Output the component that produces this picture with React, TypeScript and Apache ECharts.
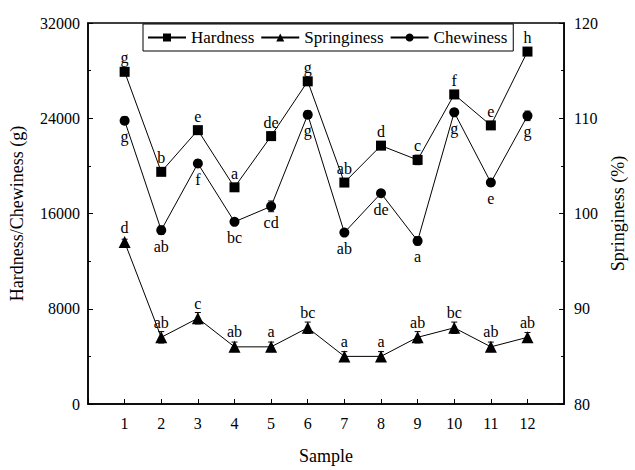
import React, { useEffect, useRef } from "react";
import * as echarts from "echarts";

const samples = [1, 2, 3, 4, 5, 6, 7, 8, 9, 10, 11, 12];
const hardness = [27900, 19500, 23000, 18200, 22500, 27100, 18600, 21700, 20500, 26000, 23400, 29600];
const hardnessErr = [300, 250, 300, 250, 300, 300, 250, 250, 400, 300, 250, 300];
const hardnessLetters = ["g", "b", "e", "a", "de", "g", "ab", "d", "c", "f", "e", "h"];
const chewiness = [23800, 14600, 20200, 15300, 16600, 24300, 14400, 17700, 13700, 24500, 18600, 24200];
const chewinessErr = [300, 350, 300, 250, 450, 300, 250, 250, 350, 300, 300, 400];
const chewinessLetters = ["g", "ab", "f", "bc", "cd", "g", "ab", "de", "a", "g", "e", "g"];
const springiness = [97.0, 87.0, 89.0, 86.0, 86.0, 88.0, 85.0, 85.0, 87.0, 88.0, 86.0, 87.0];
const springinessErr = [0.3, 0.6, 0.6, 0.5, 0.5, 0.6, 0.5, 0.5, 0.6, 0.6, 0.5, 0.5];
const springinessLetters = ["d", "ab", "c", "ab", "a", "bc", "a", "a", "ab", "bc", "ab", "ab"];

const FONT = "serif";

function errorSeries(values: number[], errs: number[], yAxisIndex: number) {
  return {
    type: "custom",
    yAxisIndex,
    silent: true,
    z: 1,
    data: samples.map((s, i) => [s, values[i] - errs[i], values[i] + errs[i]]),
    renderItem: (params: any, api: any) => {
      const x = api.value(0);
      const lo = api.coord([x, api.value(1)]);
      const hi = api.coord([x, api.value(2)]);
      const w = 3;
      const style = { stroke: "#000", lineWidth: 1 };
      return {
        type: "group",
        children: [
          { type: "line", shape: { x1: lo[0], y1: lo[1], x2: hi[0], y2: hi[1] }, style },
          { type: "line", shape: { x1: lo[0] - w, y1: lo[1], x2: lo[0] + w, y2: lo[1] }, style },
          { type: "line", shape: { x1: hi[0] - w, y1: hi[1], x2: hi[0] + w, y2: hi[1] }, style },
        ],
      };
    },
  };
}

export default function App() {
  const ref = useRef<HTMLDivElement>(null);
  useEffect(() => {
    document.body.style.margin = "0";
    if (!ref.current) return;
    const chart = echarts.init(ref.current, null, { renderer: "svg" });
    const labelStyle = { color: "#000", fontFamily: FONT, fontSize: 16 };
    chart.setOption({
      animation: false,
      textStyle: { fontFamily: FONT, color: "#000" },
      grid: {
        left: 88,
        right: 60,
        top: 23,
        bottom: 57,
        show: true,
        borderColor: "#000",
        borderWidth: 1.5,
      },
      legend: {
        top: 24,
        left: 143,
        borderColor: "#000",
        borderWidth: 1,
        padding: [5, 6, 5, 4],
        itemWidth: 38,
        itemHeight: 10,
        itemGap: 6,
        textStyle: { fontFamily: FONT, fontSize: 17, color: "#000" },
        data: ["Hardness", "Springiness", "Chewiness"],
      },
      xAxis: {
        type: "value",
        min: 0,
        max: 13,
        interval: 1,
        name: "Sample",
        nameLocation: "middle",
        nameGap: 43,
        nameTextStyle: { fontFamily: FONT, fontSize: 18, color: "#000" },
        axisLine: { lineStyle: { color: "#000", width: 1.5 } },
        axisTick: { inside: true, length: 5, lineStyle: { color: "#000" } },
        axisLabel: {
          fontFamily: FONT,
          fontSize: 16,
          color: "#000",
          margin: 11,
          formatter: (v: number) => (v >= 1 && v <= 12 ? String(v) : ""),
        },
        splitLine: { show: false },
      },
      yAxis: [
        {
          type: "value",
          min: 0,
          max: 32000,
          interval: 8000,
          name: "Hardness/Chewiness (g)",
          nameLocation: "middle",
          nameGap: 62,
          nameTextStyle: { fontFamily: FONT, fontSize: 18, color: "#000" },
          axisLine: { show: true, lineStyle: { color: "#000", width: 1.5 } },
          axisTick: { inside: true, length: 5, lineStyle: { color: "#000" } },
          minorTick: { show: true, splitNumber: 2, length: 3, lineStyle: { color: "#000" } },
          axisLabel: { fontFamily: FONT, fontSize: 16, color: "#000", margin: 8, formatter: (v: number) => String(v) },
          splitLine: { show: false },
        },
        {
          type: "value",
          min: 80,
          max: 120,
          interval: 10,
          position: "right",
          name: "Springiness (%)",
          nameLocation: "middle",
          nameGap: 42,
          nameRotate: 90,
          nameTextStyle: { fontFamily: FONT, fontSize: 18, color: "#000" },
          axisLine: { show: true, lineStyle: { color: "#000", width: 1.5 } },
          axisTick: { inside: true, length: 5, lineStyle: { color: "#000" } },
          minorTick: { show: true, splitNumber: 2, length: 3, lineStyle: { color: "#000" } },
          axisLabel: { fontFamily: FONT, fontSize: 16, color: "#000", margin: 10 },
          splitLine: { show: false },
        },
      ],
      series: [
        errorSeries(hardness, hardnessErr, 0),
        errorSeries(chewiness, chewinessErr, 0),
        errorSeries(springiness, springinessErr, 1),
        {
          name: "Hardness",
          type: "line",
          yAxisIndex: 0,
          symbol: "rect",
          symbolSize: 10,
          z: 3,
          itemStyle: { color: "#000" },
          lineStyle: { color: "#000", width: 1 },
          data: samples.map((s, i) => [s, hardness[i]]),
          label: {
            show: true,
            position: "top",
            distance: 1,
            ...labelStyle,
            formatter: (p: any) => hardnessLetters[p.dataIndex],
          },
        },
        {
          name: "Springiness",
          type: "line",
          yAxisIndex: 1,
          symbol: "triangle",
          symbolSize: 12,
          z: 3,
          itemStyle: { color: "#000" },
          lineStyle: { color: "#000", width: 1 },
          data: samples.map((s, i) => [s, springiness[i]]),
          label: {
            show: true,
            position: "top",
            distance: 1,
            ...labelStyle,
            formatter: (p: any) => springinessLetters[p.dataIndex],
          },
        },
        {
          name: "Chewiness",
          type: "line",
          yAxisIndex: 0,
          symbol: "circle",
          symbolSize: 10,
          z: 3,
          itemStyle: { color: "#000" },
          lineStyle: { color: "#000", width: 1 },
          data: samples.map((s, i) => [s, chewiness[i]]),
          label: {
            show: true,
            position: "bottom",
            distance: 3,
            ...labelStyle,
            formatter: (p: any) => chewinessLetters[p.dataIndex],
          },
        },
      ],
    });
    return () => chart.dispose();
  }, []);
  return <div ref={ref} style={{ width: 635, height: 470 }} />;
}
